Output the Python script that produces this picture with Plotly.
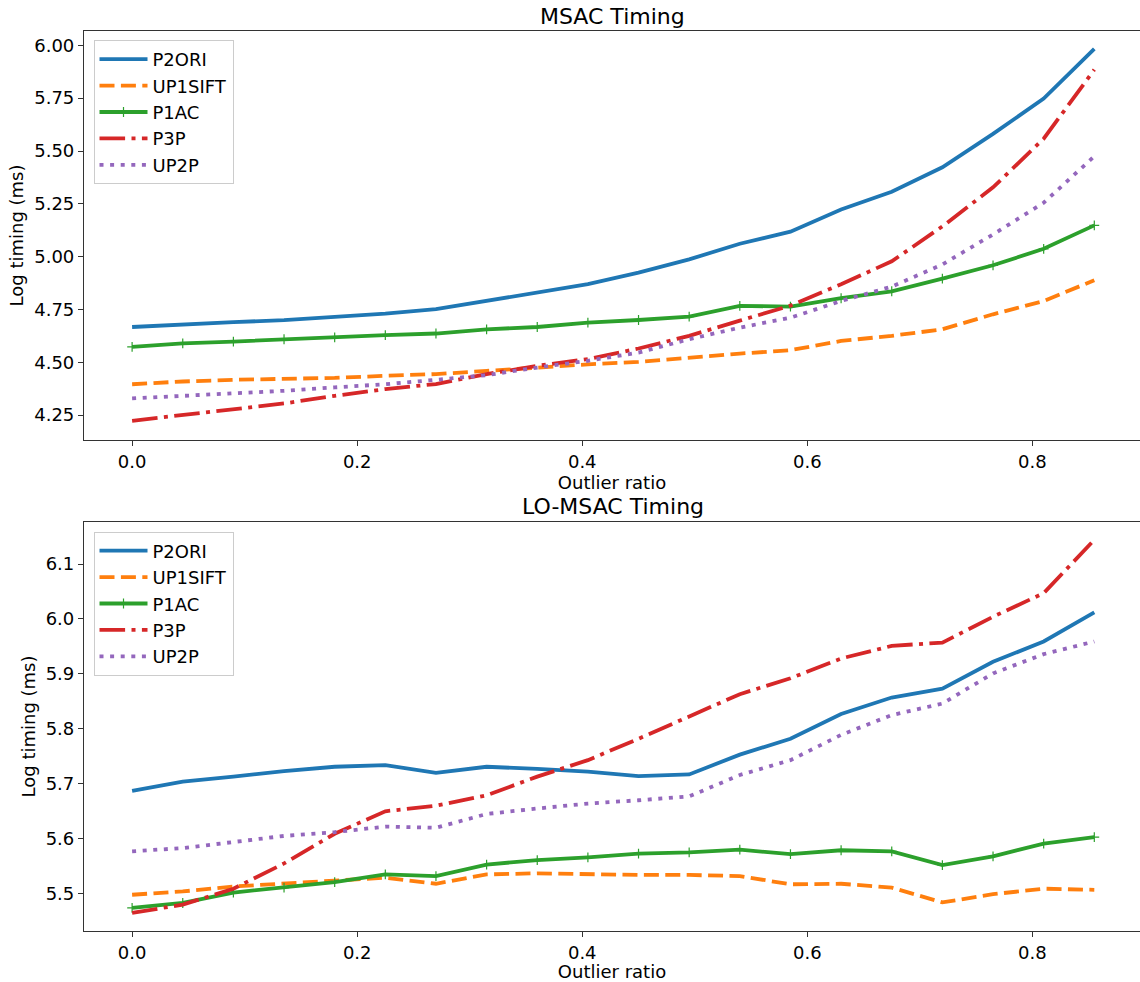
import plotly.graph_objects as go

outlier_ratio = [0.0, 0.045, 0.09, 0.135, 0.18, 0.225, 0.27, 0.315, 0.36, 0.405,
                 0.45, 0.495, 0.54, 0.585, 0.63, 0.675, 0.72, 0.765, 0.81, 0.855]

series_names = ["P2ORI", "UP1SIFT", "P1AC", "P3P", "UP2P"]

# MSAC timing (log ms)
msac_p2ori = [4.667, 4.680, 4.690, 4.699, 4.714, 4.730, 4.751, 4.790, 4.829, 4.870,
              4.924, 4.987, 5.061, 5.118, 5.223, 5.307, 5.423, 5.581, 5.748, 5.983]
msac_up1sift = [4.396, 4.409, 4.417, 4.420, 4.426, 4.436, 4.444, 4.459, 4.475, 4.490,
                4.502, 4.522, 4.541, 4.557, 4.601, 4.625, 4.656, 4.727, 4.790, 4.888]
msac_p1ac = [4.573, 4.589, 4.598, 4.609, 4.618, 4.628, 4.636, 4.656, 4.667, 4.688,
             4.700, 4.716, 4.767, 4.763, 4.803, 4.836, 4.896, 4.959, 5.037, 5.148]
msac_p3p = [4.223, 4.250, 4.278, 4.305, 4.341, 4.373, 4.397, 4.444, 4.483, 4.515,
            4.565, 4.625, 4.697, 4.768, 4.869, 4.978, 5.143, 5.328, 5.558, 5.885]
msac_up2p = [4.329, 4.341, 4.349, 4.365, 4.381, 4.396, 4.417, 4.439, 4.475, 4.507,
             4.546, 4.609, 4.664, 4.711, 4.790, 4.858, 4.963, 5.105, 5.255, 5.475]

# LO-MSAC timing (log ms)
lo_p2ori = [5.687, 5.704, 5.713, 5.723, 5.731, 5.734, 5.720, 5.731, 5.727, 5.722,
            5.714, 5.717, 5.753, 5.782, 5.827, 5.857, 5.873, 5.922, 5.959, 6.012]
lo_up1sift = [5.498, 5.504, 5.513, 5.518, 5.524, 5.529, 5.518, 5.535, 5.537, 5.535,
              5.534, 5.534, 5.532, 5.517, 5.518, 5.511, 5.484, 5.499, 5.509, 5.507]
lo_p1ac = [5.474, 5.483, 5.502, 5.511, 5.521, 5.535, 5.532, 5.553, 5.561, 5.566,
           5.573, 5.575, 5.580, 5.572, 5.579, 5.577, 5.552, 5.568, 5.591, 5.603]
lo_p3p = [5.465, 5.480, 5.509, 5.555, 5.609, 5.650, 5.660, 5.679, 5.713, 5.743,
          5.782, 5.823, 5.863, 5.892, 5.928, 5.951, 5.957, 6.004, 6.047, 6.144]
lo_up2p = [5.577, 5.583, 5.594, 5.605, 5.612, 5.622, 5.620, 5.645, 5.655, 5.664,
           5.670, 5.677, 5.716, 5.743, 5.789, 5.825, 5.846, 5.901, 5.936, 5.959]

colors = ["#1f77b4", "#ff7f0e", "#2ca02c", "#d62728", "#9467bd"]
dashes = ["solid", "15px,6.4px", "solid", "25.6px,6.4px,4px,6.4px", "4px,6.6px"]
LW = 3.8

FONT = "DejaVu Sans"
FS = 18

fig = go.Figure()

def add_group(values, xa, ya, legend):
    for name, vals, col, dash in zip(series_names, values, colors, dashes):
        kw = {}
        mode = "lines"
        if name == "P1AC":
            mode = "lines+markers"
            kw["marker"] = dict(symbol="cross-thin", size=7, color=col,
                                line=dict(color=col, width=1.2))
        fig.add_trace(go.Scatter(
            x=outlier_ratio, y=vals, name=name, mode=mode,
            line=dict(color=col, width=LW, dash=dash),
            xaxis=xa, yaxis=ya, legend=legend, **kw))

add_group([msac_p2ori, msac_up1sift, msac_p1ac, msac_p3p, msac_up2p], "x", "y", "legend")
add_group([lo_p2ori, lo_up1sift, lo_p1ac, lo_p3p, lo_up2p], "x2", "y2", "legend2")

xrange_ = [-0.04275, 0.8956]
axis_common = dict(showline=True, linecolor="#333333", linewidth=1.2,
                   ticks="outside", ticklen=5, tickwidth=1.2, tickcolor="#333333",
                   showgrid=False, zeroline=False, automargin=False,
                   tickfont=dict(family=FONT, size=FS, color="black"))

H = 900.0
top_dom = [1 - 409 / H, 1]
bot_dom = [0, 409 / H]

xtitle = dict(text="Outlier ratio", font=dict(family=FONT, size=FS), standoff=1)
ytitle = dict(text="Log timing (ms)", font=dict(family=FONT, size=FS), standoff=5)

fig.update_layout(
    width=1140, height=982,
    margin=dict(l=84, r=0, t=31, b=51),
    paper_bgcolor="white", plot_bgcolor="white",
    font=dict(family=FONT, size=FS, color="black"),
    xaxis=dict(domain=[0, 1], range=xrange_, anchor="y", mirror=True,
               tickvals=[0, 0.2, 0.4, 0.6, 0.8], tickformat=".1f",
               title=xtitle, **axis_common),
    yaxis=dict(domain=top_dom, range=[4.132, 6.068], anchor="x",
               tickvals=[4.25, 4.5, 4.75, 5.0, 5.25, 5.5, 5.75, 6.0], tickformat=".2f",
               title=ytitle, **axis_common),
    xaxis2=dict(domain=[0, 1], range=xrange_, anchor="y2", mirror=True,
                tickvals=[0, 0.2, 0.4, 0.6, 0.8], tickformat=".1f",
                title=xtitle, **axis_common),
    yaxis2=dict(domain=bot_dom, range=[5.432, 6.1765], anchor="x2",
                tickvals=[5.5, 5.6, 5.7, 5.8, 5.9, 6.0, 6.1], tickformat=".1f",
                title=ytitle, **axis_common),
    legend=dict(x=0.009, y=1 - 9 / H, xanchor="left", yanchor="top",
                bgcolor="rgba(255,255,255,0.8)", bordercolor="#cccccc", borderwidth=1,
                font=dict(family=FONT, size=FS), itemwidth=48),
    legend2=dict(x=0.009, y=1 - (531.5 - 31) / H, xanchor="left", yanchor="top",
                 bgcolor="rgba(255,255,255,0.8)", bordercolor="#cccccc", borderwidth=1,
                 font=dict(family=FONT, size=FS), itemwidth=48),
    showlegend=True,
    annotations=[
        dict(text="MSAC Timing", xref="paper", yref="paper", x=(612.5 - 84) / 1056,
             y=1 + (31 - 16) / H, xanchor="center", yanchor="middle", showarrow=False,
             font=dict(family=FONT, size=22)),
        dict(text="LO-MSAC Timing", xref="paper", yref="paper", x=(612.5 - 84) / 1056,
             y=1 - (506 - 31) / H, xanchor="center", yanchor="middle", showarrow=False,
             font=dict(family=FONT, size=22)),
    ],
)

fig.write_html("out.html", config={"displayModeBar": False},
               post_script="document.body.style.margin='0';document.body.style.padding='0';")
